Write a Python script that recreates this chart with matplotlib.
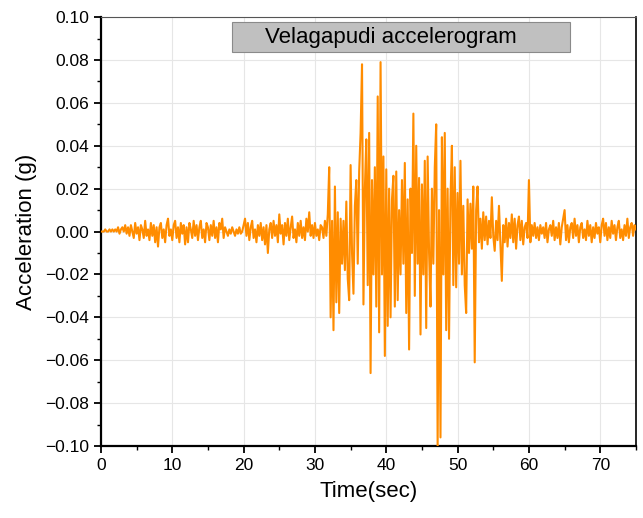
import numpy as np
import matplotlib
matplotlib.use("Agg")
import matplotlib.pyplot as plt
from matplotlib.patches import Rectangle
from matplotlib.ticker import MultipleLocator, FuncFormatter

plt.rcParams['font.family'] = ['Liberation Sans', 'DejaVu Sans']

# sample step of the record (sec)
dt = 0.2

# acceleration, in milli-g, one row = 2 sec
accel_mg = [
    0, 0, 0, 1, 0, 0, 1, 0, 1, 0,
    1, 0, 2, -1, 1, 2, 0, 3, -1, 2,
    -2, 3, 0, -3, 4, -1, 2, -4, 3, 1,
    -3, 5, -2, 1, -4, 4, -2, 3, -5, 2,
    -7, 2, 4, -3, 1, -5, 3, 6, -2, 1,
    -4, 3, 5, -3, 2, -5, 4, -1, 3, -6,
    2, -5, 4, 1, -3, 5, -2, 3, -4, 2,
    5, -3, 1, -5, 4, 2, -4, 3, -2, 5,
    -3, 2, -5, 4, 1, 6, -3, 2, 0, -2,
    1, -1, 2, 0, -2, 1, -1, 2, -1, 0,
    3, 6, -2, 4, -4, 2, 5, -3, 1, -5,
    3, -2, 4, -4, 2, -6, 3, -10, 1, 4,
    -3, 5, -2, 3, -5, 8, -1, 3, -6, 4,
    -2, 6, -4, 2, 7, -3, 1, -5, 4, -2,
    5, -3, 2, -4, 6, 0, 9, -2, 3, -3,
    4, -2, 1, -4, 3, 2, -3, 5, -2, 8,
    30, -40, 5, -46, 21, -33, 9, -38, 6, -15,
    5, -18, 14, -22, -32, 31, -10, -29, 12, 24,
    -15, 28, 46, 78, -34, 20, 43, -25, 46, -66,
    24, -20, 30, -35, 63, -47, 79, -20, 35, -58,
    29, -44, 20, -40, 15, 26, -35, 28, -32, 10,
    -20, 24, -15, 32, -38, 15, -55, 20, -10, 55,
    -30, 40, -15, 25, -48, 22, -20, 33, -45, 35,
    -10, -35, 20, -15, 30, 50, -100, 10, -96, 44,
    -20, 46, -46, 20, -50, 15, 40, -25, 30, -26,
    18, -15, 33, -20, 12, -25, -38, 15, -10, 13,
    -8, 21, -61, 10, 21, -5, 6, -8, 9, -4,
    7, -6, 5, -3, 16, -2, -9, 5, -4, 12,
    -6, -23, 3, -5, 6, -7, 4, -3, 8, -5,
    6, -8, 3, 7, -4, 5, -6, 2, 4, -3,
    24, -5, 3, -2, 4, -3, 2, -4, 3, -1,
    2, -3, 4, -5, 1, 3, -2, 5, -4, 2,
    -3, 4, -6, 2, 6, 10, -4, 3, -5, 2,
    4, -3, 6, -2, 3, -5, 2, 4, -3, 1,
    -4, 5, -2, 3, -5, 2, -3, 4, -1, 2,
    -5, 3, 6, -2, 4, -4, 2, -3, 5, -1,
    3, -4, 2, 5, -3, 1, -4, 3, -2, 6,
    -3, 2, 4, -2, 3, 1,
]

accel = np.array(accel_mg) / 1000.0
time = np.arange(len(accel)) * dt


def fmt_y(v, pos):
    if abs(v) < 1e-9:
        return "0.00"
    return f"{v:.2f}".replace('-', '\u2212')


fig = plt.figure(figsize=(6.43, 5.18), dpi=100)
ax = fig.add_axes([0.157, 0.139, 0.832, 0.828])

ax.plot(time, accel, color='#ff8c00', lw=1.5, zorder=3)

ax.set_xlim(0, 75)
ax.set_ylim(-0.10, 0.10)
ax.xaxis.set_major_locator(MultipleLocator(10))
ax.xaxis.set_minor_locator(MultipleLocator(5))
ax.yaxis.set_major_locator(MultipleLocator(0.02))
ax.yaxis.set_minor_locator(MultipleLocator(0.01))
ax.yaxis.set_major_formatter(FuncFormatter(fmt_y))

ax.grid(True, which='major', color='#e6e6e6', lw=0.8, zorder=0)
ax.tick_params(which='major', direction='out', length=5, width=1.3, labelsize=12.5, colors='black')
ax.tick_params(which='minor', direction='out', length=3, width=1.0)

for side in ['left', 'bottom']:
    ax.spines[side].set_linewidth(1.6)
ax.spines['right'].set_linewidth(1.2)
ax.spines['top'].set_linewidth(0.8)
ax.spines['top'].set_color('#555555')

ax.set_xlabel('Time(sec)', fontsize=16, labelpad=6)
ax.set_ylabel('Acceleration (g)', fontsize=16, labelpad=6)

ax.add_patch(Rectangle((0.245, 0.918), 0.632, 0.07, transform=ax.transAxes,
                       facecolor='#c0c0c0', edgecolor='#8a8a8a', lw=0.8, zorder=4))
ax.text(0.307, 0.953, 'Velagapudi accelerogram', transform=ax.transAxes,
        ha='left', va='center', fontsize=16, zorder=5)

fig.savefig('out.png', dpi=100)
